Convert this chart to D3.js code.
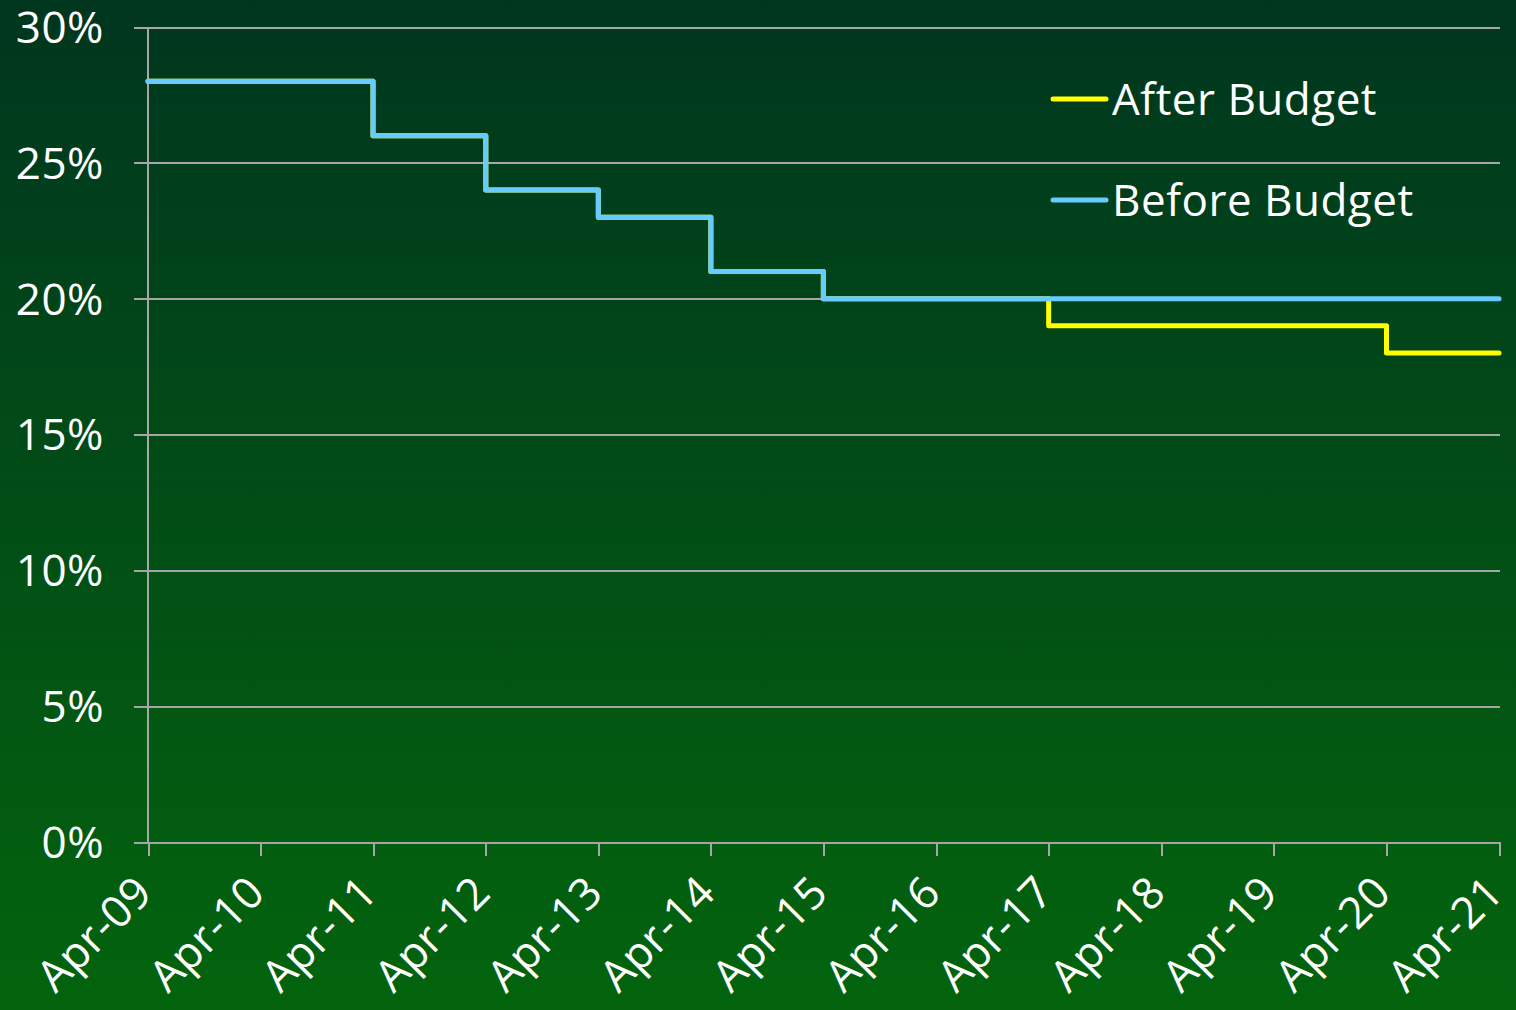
<!doctype html>
<html lang="en">
<head>
<meta charset="UTF-8">
<title>Corporation tax rate</title>
<style>
  body { margin: 0; background: #004a18; }
  svg text { font-family: "Open Sans", "Noto Sans", sans-serif; fill: #fff; letter-spacing: 0.5px; }
  .axis path, .axis line { stroke: #a6a6a6; stroke-width: 2px; shape-rendering: crispEdges; }
  .line { fill: none; stroke-width: 5px; stroke-linejoin: round; stroke-linecap: round; }
</style>
</head>
<body>
<script src="https://cdn.jsdelivr.net/npm/d3@7"></script>
<script>
var width = 1516, height = 1010;
var margin = {top: 27, right: 16, bottom: 168, left: 148};

// data
var parse = function(s){ return d3.timeParse("%d-%b-%y")("01-" + s); };
var xTickLabels = ["Apr-09", "Apr-10", "Apr-11", "Apr-12", "Apr-13", "Apr-14", "Apr-15",
                   "Apr-16", "Apr-17", "Apr-18", "Apr-19", "Apr-20", "Apr-21"];
var beforeDates = ["Apr-09", "Apr-11", "Apr-12", "Apr-13", "Apr-14", "Apr-15", "Apr-21"];
var beforeValues = [28, 26, 24, 23, 21, 20, 20];
var afterDates = ["Apr-09", "Apr-11", "Apr-12", "Apr-13", "Apr-14", "Apr-15", "Apr-17", "Apr-20", "Apr-21"];
var afterValues = [28, 26, 24, 23, 21, 20, 19, 18, 18];
var yTicks = [0, 5, 10, 15, 20, 25, 30];
var seriesNames = ["After Budget", "Before Budget"];
var seriesColors = ["#ffff00", "#66ccff"];

var before = beforeDates.map(function(d, i){ return {date: parse(d), value: beforeValues[i]}; });
var after = afterDates.map(function(d, i){ return {date: parse(d), value: afterValues[i]}; });

var svg = d3.select("body").append("svg")
  .attr("width", width)
  .attr("height", height);

var grad = svg.append("defs").append("linearGradient")
  .attr("id", "bg").attr("x1", 0).attr("y1", 0).attr("x2", 0).attr("y2", 1);
grad.append("stop").attr("offset", "0%").attr("stop-color", "#00361f");
grad.append("stop").attr("offset", "100%").attr("stop-color", "#03640d");

svg.append("rect").attr("width", width).attr("height", height).attr("fill", "url(#bg)");

var x = d3.scaleTime()
  .domain([parse("Apr-09"), parse("Apr-21")])
  .range([margin.left, width - margin.right - 1]);

var y = d3.scaleLinear()
  .domain([0, 30])
  .range([height - margin.bottom, margin.top]);

// gridlines
svg.append("g")
  .attr("class", "axis axis--y")
  .attr("transform", "translate(" + (width - margin.right) + ",0)")
  .call(d3.axisLeft(y).tickValues(yTicks)
    .tickSize(width - margin.right - margin.left + 14)
    .tickFormat(""))
  .call(function(g){ g.select(".domain").remove(); });

svg.append("g")
  .selectAll("text")
  .data(yTicks)
  .enter()
  .append("text")
  .attr("x", 104)
  .attr("y", function(d){ return y(d); })
  .attr("dy", "0.36em")
  .attr("text-anchor", "end")
  .attr("font-size", 44)
  .text(function(d){ return d + "%"; });

svg.append("line")
  .attr("x1", margin.left).attr("x2", margin.left)
  .attr("y1", margin.top).attr("y2", height - margin.bottom)
  .attr("stroke", "#a6a6a6").attr("stroke-width", 2);

// x axis
var xAxis = svg.append("g")
  .attr("class", "axis axis--x")
  .attr("transform", "translate(0," + (height - margin.bottom) + ")")
  .call(d3.axisBottom(x).tickValues(xTickLabels.map(parse))
    .tickSize(14).tickSizeOuter(0)
    .tickFormat(d3.timeFormat("%b-%y")));

xAxis.selectAll("text")
  .attr("font-size", 44)
  .attr("text-anchor", "end")
  .attr("dx", 0)
  .attr("dy", "0.36em")
  .attr("y", 0)
  .attr("transform", "translate(-5,42) rotate(-45)");

// lines
var line = d3.line()
  .curve(d3.curveStepAfter)
  .x(function(d){ return x(d.date); })
  .y(function(d){ return y(d.value); });

svg.append("path").datum(after).attr("class", "line").attr("stroke", seriesColors[0]).attr("d", line);
svg.append("path").datum(before).attr("class", "line").attr("stroke", seriesColors[1]).attr("d", line);

// legend
var legend = svg.append("g").selectAll("g")
  .data(seriesNames)
  .enter()
  .append("g")
  .attr("transform", function(d, i){ return "translate(1053," + (99 + i * 101) + ")"; });

legend.append("line")
  .attr("x1", 0).attr("x2", 53)
  .attr("stroke", function(d, i){ return seriesColors[i]; })
  .attr("stroke-width", 5)
  .attr("stroke-linecap", "round");

legend.append("text")
  .attr("x", 59)
  .attr("dy", "0.36em")
  .attr("font-size", 44)
  .text(function(d){ return d; });
</script>
</body>
</html>
